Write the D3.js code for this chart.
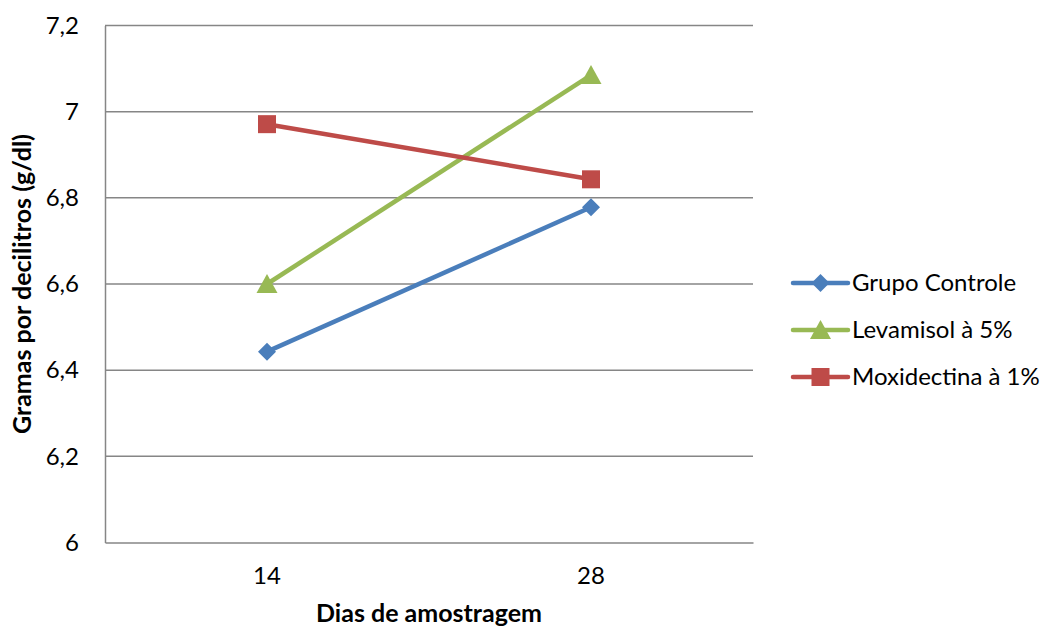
<!DOCTYPE html>
<html>
<head>
<meta charset="utf-8">
<script src="https://cdn.jsdelivr.net/npm/d3@7/dist/d3.min.js"></script>
<style>
  html, body { margin: 0; padding: 0; background: #fff; }
  svg { display: block; font-family: Lato, "Open Sans", sans-serif; }
</style>
</head>
<body>
<svg id="chart" width="1047" height="630"></svg>
<script>
// Sampling days and protein values (g/dl) per treatment group
const categories = ["14", "28"];
const grupoControle = [6.443, 6.778];
const levamisol = [6.6, 7.085];
const moxidectina = [6.971, 6.843];
const seriesNames = ["Grupo Controle", "Levamisol à 5%", "Moxidectina à 1%"];
const yTicks = [6, 6.2, 6.4, 6.6, 6.8, 7, 7.2];

const series = [
  { name: seriesNames[0], values: grupoControle, color: "#4a7ebb", marker: "diamond" },
  { name: seriesNames[1], values: levamisol, color: "#98b954", marker: "triangle" },
  { name: seriesNames[2], values: moxidectina, color: "#be4b48", marker: "square" }
];

const svg = d3.select("#chart");
const plot = { left: 105, right: 753, top: 25.5, bottom: 542.5 };
const fontSize = 24;
const titleSize = 25;

const x = d3.scaleBand().domain(categories).range([plot.left, plot.right]);
const y = d3.scaleLinear().domain([6, 7.2]).range([plot.bottom, plot.top]);
const fmt = v => String(+v.toFixed(1)).replace(".", ",");

// Horizontal gridlines
svg.append("g").selectAll("line").data(yTicks.slice(1)).join("line")
  .attr("x1", plot.left).attr("x2", plot.right)
  .attr("y1", d => y(d)).attr("y2", d => y(d))
  .attr("stroke", "#868686").attr("stroke-width", 1.5);

// Y axis
const yAxis = svg.append("g").attr("transform", `translate(${plot.left},0)`)
  .call(d3.axisLeft(y).tickValues(yTicks).tickFormat(fmt).tickSize(0).tickPadding(26));
yAxis.select(".domain").attr("stroke", "#868686").attr("stroke-width", 1.5);
yAxis.selectAll("text").attr("font-size", fontSize).attr("fill", "#000")
  .attr("font-family", "Lato, 'Open Sans', sans-serif");

// X axis
const xAxis = svg.append("g").attr("transform", `translate(0,${plot.bottom})`)
  .call(d3.axisBottom(x).tickSize(0).tickPadding(24));
xAxis.select(".domain").attr("stroke", "#868686").attr("stroke-width", 1.5);
xAxis.selectAll("text").attr("font-size", fontSize).attr("fill", "#000")
  .attr("font-family", "Lato, 'Open Sans', sans-serif");

// Axis titles
svg.append("text")
  .attr("x", (plot.left + plot.right) / 2).attr("y", 622)
  .attr("text-anchor", "middle").attr("font-size", titleSize).attr("font-weight", "bold")
  .text("Dias de amostragem");
svg.append("text")
  .attr("transform", `translate(31,${(plot.top + plot.bottom) / 2}) rotate(-90)`)
  .attr("text-anchor", "middle").attr("font-size", titleSize).attr("font-weight", "bold")
  .text("Gramas por decilitros (g/dl)");

const cx = c => x(c) + x.bandwidth() / 2;

function drawMarker(g, type, color) {
  if (type === "diamond") {
    g.append("path").attr("d", "M0,-9L9,0L0,9L-9,0Z").attr("fill", color);
  } else if (type === "triangle") {
    g.append("path").attr("d", "M0,-10L10.5,9L-10.5,9Z").attr("fill", color);
  } else {
    g.append("rect").attr("x", -9).attr("y", -9).attr("width", 18).attr("height", 18).attr("fill", color);
  }
}

const line = d3.line().x((d, i) => cx(categories[i])).y(d => y(d));

series.forEach(s => {
  svg.append("path").datum(s.values)
    .attr("d", line).attr("fill", "none")
    .attr("stroke", s.color).attr("stroke-width", 4.5).attr("stroke-linejoin", "round");
  s.values.forEach((v, i) => {
    const g = svg.append("g").attr("transform", `translate(${cx(categories[i])},${y(v)})`);
    drawMarker(g, s.marker, s.color);
  });
});

// Legend
const legend = svg.append("g").attr("transform", "translate(793,283)");
series.forEach((s, i) => {
  const row = legend.append("g").attr("transform", `translate(0,${i * 47})`);
  row.append("line").attr("x1", 0).attr("x2", 55).attr("y1", 0).attr("y2", 0)
    .attr("stroke", s.color).attr("stroke-width", 4.5).attr("stroke-linecap", "round");
  const m = row.append("g").attr("transform", "translate(27.5,0)");
  drawMarker(m, s.marker, s.color);
  row.append("text").attr("x", 59).attr("y", 0).attr("dy", "0.35em")
    .attr("font-size", fontSize).attr("fill", "#000").text(s.name);
});
</script>
</body>
</html>
